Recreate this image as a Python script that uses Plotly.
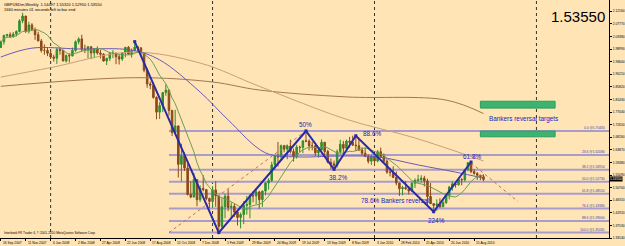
import pandas as pd
import plotly.graph_objects as go

# ---------------- data ----------------
start_date = "2007-09-16"          # first weekly bar (Sunday)
first_open = 1.9950

high = [2.0190, 2.0400, 2.0430, 2.0480, 2.0490, 2.0550, 2.0940, 2.1161, 2.1050, 2.0850, 2.0800, 2.0650, 2.0500, 2.0250, 2.0060, 1.9960,
        1.9830, 1.9700, 1.9940, 1.9960, 1.9870, 1.9710, 1.9750, 1.9950, 2.0200, 2.0310, 2.0397, 2.0050, 2.0000, 1.9990, 1.9920, 1.9990,
        1.9870, 1.9750, 1.9600, 1.9800, 1.9860, 1.9780, 1.9700, 1.9780, 1.9960, 2.0000, 1.9920, 2.0157, 2.0010, 1.9950, 1.9770, 1.9230,
        1.8760, 1.8740, 1.8250, 1.8050, 1.8400, 1.8670, 1.8460, 1.7780, 1.7780, 1.7100, 1.6600, 1.6300, 1.5900, 1.5290, 1.5580, 1.5350,
        1.5150, 1.5500, 1.4980, 1.4720,
        1.5120, 1.5290, 1.4800, 1.4700, 1.4850, 1.5010, 1.4550, 1.4500, 1.4250, 1.4200, 1.4600, 1.4780, 1.4850, 1.4950, 1.5060, 1.4960,
        1.4960, 1.5260, 1.5400, 1.5970, 1.6180, 1.6660, 1.6570, 1.6560, 1.6570, 1.6740, 1.6430, 1.6560, 1.6530, 1.6680, 1.7043, 1.6750,
        1.6660, 1.6520, 1.6480, 1.6750, 1.6660, 1.6390, 1.6090, 1.6010, 1.6400, 1.6740, 1.6700, 1.6740, 1.6840, 1.6880, 1.6877, 1.6770,
        1.6480, 1.6460, 1.6230, 1.6220,
        1.6160, 1.6380, 1.6460, 1.6260, 1.6060, 1.5760, 1.5810, 1.5630, 1.5240, 1.5130, 1.5300, 1.5060, 1.5270, 1.5390, 1.5520, 1.5500,
        1.5480, 1.5380, 1.5230, 1.4530, 1.4660, 1.4700, 1.4670, 1.4870, 1.5130, 1.5290, 1.5250, 1.5440, 1.5400, 1.5720, 1.5950, 1.5962,
        1.5710, 1.5610, 1.5520, 1.5532]

low = [1.9940, 2.0050, 2.0290, 2.0290, 2.0310, 2.0340, 2.0480, 2.0800, 2.0460, 2.0440, 2.0520, 2.0220, 2.0170, 1.9780, 1.9700, 1.9650,
       1.9550, 1.9460, 1.9380, 1.9700, 1.9500, 1.9430, 1.9430, 1.9640, 1.9800, 2.0060, 1.9800, 1.9760, 1.9580, 1.9550, 1.9580, 1.9700,
       1.9570, 1.9460, 1.9340, 1.9480, 1.9580, 1.9370, 1.9360, 1.9480, 1.9610, 1.9700, 1.9600, 1.9850, 1.9840, 1.9700, 1.9090, 1.8550,
       1.8500, 1.8170, 1.7450, 1.7460, 1.7700, 1.8270, 1.7580, 1.6870, 1.7080, 1.5420, 1.5280, 1.5650, 1.4800, 1.4700, 1.4770, 1.4420,
       1.4570, 1.4940, 1.4630, 1.4350,
       1.4400, 1.4400, 1.3503, 1.3650, 1.4000, 1.4250, 1.4050, 1.4050, 1.3750, 1.3650, 1.3800, 1.4130, 1.4000, 1.4560, 1.4500, 1.4330,
       1.4400, 1.4800, 1.5000, 1.5270, 1.5700, 1.5800, 1.6010, 1.6300, 1.6060, 1.6260, 1.5980, 1.6080, 1.6290, 1.6270, 1.6650, 1.6360,
       1.6370, 1.6180, 1.6120, 1.6400, 1.6220, 1.5920, 1.5707, 1.5720, 1.5770, 1.6250, 1.6240, 1.6370, 1.6460, 1.6520, 1.6340, 1.6340,
       1.6200, 1.6150, 1.5910, 1.5860,
       1.5840, 1.5950, 1.6110, 1.5920, 1.5550, 1.5460, 1.5410, 1.5150, 1.4780, 1.4800, 1.5000, 1.4830, 1.4950, 1.5060, 1.5250, 1.5240,
       1.5110, 1.4470, 1.4530, 1.4229, 1.4260, 1.4360, 1.4390, 1.4500, 1.4660, 1.4960, 1.5070, 1.5140, 1.5150, 1.5280, 1.5640, 1.5570,
       1.5520, 1.5340, 1.5330, 1.5295]

close = [2.0150, 2.0370, 2.0400, 2.0320, 2.0420, 2.0510, 2.0880, 2.1050, 2.0520, 2.0740, 2.0580, 2.0400, 2.0180, 1.9850, 1.9850, 1.9750,
         1.9620, 1.9580, 1.9880, 1.9850, 1.9480, 1.9670, 1.9660, 1.9850, 2.0150, 2.0250, 1.9890, 1.9880, 1.9980, 1.9760, 1.9910, 1.9760,
         1.9720, 1.9480, 1.9570, 1.9750, 1.9750, 1.9630, 1.9550, 1.9760, 1.9960, 1.9720, 1.9840, 1.9970, 1.9940, 1.9770, 1.9160, 1.8680,
         1.8640, 1.8210, 1.7700, 1.7930, 1.8380, 1.8470, 1.7760, 1.6990, 1.7220, 1.5880, 1.6180, 1.5750, 1.4830, 1.4740, 1.5350, 1.4650,
         1.5040, 1.5000, 1.4690, 1.4590,
         1.4990, 1.4780, 1.3720, 1.4400, 1.4770, 1.4380, 1.4420, 1.4220, 1.4030, 1.4130, 1.4450, 1.4480, 1.4790, 1.4780, 1.4920, 1.4650,
         1.4950, 1.5230, 1.5320, 1.5860, 1.6160, 1.6140, 1.6530, 1.6410, 1.6520, 1.6330, 1.6150, 1.6480, 1.6470, 1.6700, 1.6690, 1.6530,
         1.6530, 1.6280, 1.6380, 1.6650, 1.6330, 1.5950, 1.5900, 1.5850, 1.6320, 1.6580, 1.6440, 1.6690, 1.6650, 1.6550, 1.6530, 1.6380,
         1.6270, 1.6150, 1.5990, 1.6150,
         1.6000, 1.6320, 1.6150, 1.5990, 1.5610, 1.5600, 1.5420, 1.5230, 1.5030, 1.5070, 1.5030, 1.4950, 1.5220, 1.5320, 1.5350, 1.5400,
         1.5300, 1.4760, 1.4510, 1.4450, 1.4500, 1.4400, 1.4550, 1.4800, 1.5090, 1.5200, 1.5170, 1.5350, 1.5340, 1.5700, 1.5940, 1.5630,
         1.5560, 1.5500, 1.5450, 1.5355]

# moving averages (sparse points)
ma_mid_dates = ["2007-09-16", "2007-11-25", "2008-03-09", "2008-07-06", "2008-09-07", "2008-12-07", "2009-02-08",
                "2009-05-03", "2009-07-12", "2009-10-11", "2010-01-10", "2010-04-11", "2010-07-04", "2010-09-05"]
ma_mid_vals = [1.962, 1.993, 1.990, 1.986, 1.952, 1.840, 1.743, 1.628, 1.614, 1.617, 1.614, 1.586, 1.561, 1.540]

ma_long1_dates = ["2007-09-16", "2008-01-06", "2008-07-06", "2008-12-07", "2009-04-19", "2009-11-01",
                  "2010-04-04", "2010-09-05"]
ma_long1_vals = [1.892, 1.925, 1.979, 1.941, 1.860, 1.745, 1.680, 1.600]

ma_long2_dates = ["2007-09-16", "2008-07-13", "2009-01-04", "2009-04-19", "2009-11-01", "2010-06-13", "2010-09-05"]
ma_long2_vals = [1.860, 1.890, 1.875, 1.847, 1.823, 1.812, 1.765]

# zig-zag pattern drawn by the trader
zz_dates = ["2008-07-13", "2009-01-18", "2009-08-02", "2009-10-04", "2009-11-22", "2010-05-16", "2010-08-08"]
zz_vals = [2.0157, 1.3503, 1.7043, 1.5707, 1.6877, 1.4229, 1.5962]
zz_labels = ["", "", "50%", "38.2%", "88.6%", "224%", "61.8%"]

# fibonacci retracement
fib_start = "2008-09-28"
fib_anchor_dates = ["2008-09-28", "2009-08-02"]
fib_levels = ["0.0", "23.6", "38.2", "50.0", "61.8", "76.4", "88.6", "100.0"]
fib_prices = [1.7043, 1.6208, 1.5691, 1.5273, 1.4855, 1.4338, 1.3906, 1.3503]

# target boxes
target_x = ["2010-08-29", "2011-02-13"]
target_boxes = [(1.7840, 1.8080), (1.6840, 1.7040)]

# down trend line after 61.8%
trend_dates = ["2010-08-08", "2010-11-21"]
trend_vals = [1.5930, 1.4590]

# year separators
separators = ["2008-01-06", "2009-01-04", "2010-01-03", "2011-01-02"]

# axis labels
date_ticks = ["2007-09-16", "2007-11-11", "2008-01-06", "2008-03-02", "2008-04-27", "2008-06-22", "2008-08-17",
              "2008-10-12", "2008-12-07", "2009-02-01", "2009-03-29", "2009-05-24", "2009-07-19", "2009-09-13",
              "2009-11-08", "2010-01-03", "2010-02-28", "2010-04-25", "2010-06-20", "2010-08-15"]
date_text = ["16 Sep 2007", "11 Nov 2007", "6 Jan 2008", "2 Mar 2008", "27 Apr 2008", "22 Jun 2008", "17 Aug 2008",
             "12 Oct 2008", "7 Dec 2008", "1 Feb 2009", "29 Mar 2009", "24 May 2009", "19 Jul 2009", "13 Sep 2009",
             "8 Nov 2009", "3 Jan 2010", "28 Feb 2010", "25 Apr 2010", "20 Jun 2010", "15 Aug 2010"]
price_ticks = [1.3314, 1.3753, 1.4192, 1.4631, 1.5070, 1.5509, 1.5948, 1.6387, 1.6826, 1.7265,
               1.7704, 1.8143, 1.8582, 1.9021, 1.9460, 1.9899, 2.0338, 2.0777, 2.1216]
last_price = 1.5355

# ---------------- figure ----------------
dates = pd.date_range(start_date, periods=len(close), freq="7D")
opens = [first_open] + close[:-1]

BG = "#FFE4B5"
BULL = "#2F8F2F"
BEAR = "#8B4A17"
ZZ = "#2A2AA8"
FIBC = "#A89CCB"
TXT = "#2323B8"
SMALL = 3.3
LBL = 6.4

fig = go.Figure()

# year separators
for d in separators:
    fig.add_shape(type="line", xref="x", yref="paper", x0=d, x1=d, y0=0, y1=1,
                  line=dict(color="#333333", width=1, dash="dot"), layer="below")

# fibonacci lines
x_right = pd.Timestamp(start_date) + pd.Timedelta(weeks=195.3)
for lvl, pr in zip(fib_levels, fib_prices):
    fig.add_shape(type="line", xref="x", yref="y", x0=fib_start, x1=x_right, y0=pr, y1=pr,
                  line=dict(color=FIBC, width=2), layer="below")
    fig.add_annotation(x=1, xref="paper", y=pr, yref="y", xanchor="right", yanchor="bottom",
                       text=f"{lvl} @{pr:.5f}", showarrow=False, xshift=-2, yshift=-1,
                       font=dict(size=SMALL, color="#4A3FA8", family="Liberation Sans"))
# fib trend (dotted)
fig.add_trace(go.Scatter(x=fib_anchor_dates, y=[fib_prices[-1], fib_prices[0]], mode="lines",
                         line=dict(color="#C07060", width=1, dash="dot"), hoverinfo="skip"))

# target boxes
for lo, hi in target_boxes:
    fig.add_shape(type="rect", xref="x", yref="y", x0=target_x[0], x1=target_x[1], y0=lo, y1=hi,
                  fillcolor="#3CB371", line=dict(color="#2E9B5E", width=1))

# moving averages
fig.add_trace(go.Scatter(x=ma_long2_dates, y=ma_long2_vals, mode="lines", line_shape="spline",
                         line=dict(color="#A07850", width=1), hoverinfo="skip"))
fig.add_trace(go.Scatter(x=ma_long1_dates, y=ma_long1_vals, mode="lines", line_shape="spline",
                         line=dict(color="#C8A078", width=1), hoverinfo="skip"))
fig.add_trace(go.Scatter(x=ma_mid_dates, y=ma_mid_vals, mode="lines", line_shape="spline",
                         line=dict(color="#6A5AB8", width=1), hoverinfo="skip"))
ma_short = pd.Series(close).rolling(10, min_periods=1).mean()
fig.add_trace(go.Scatter(x=dates, y=ma_short, mode="lines",
                         line=dict(color="#6E9E50", width=1), hoverinfo="skip"))

# candles
fig.add_trace(go.Candlestick(x=dates, open=opens, high=high, low=low, close=close,
                             increasing=dict(line=dict(color=BULL, width=1), fillcolor=BULL),
                             decreasing=dict(line=dict(color=BEAR, width=1), fillcolor=BEAR),
                             whiskerwidth=0, hoverinfo="skip"))

# trend line
fig.add_trace(go.Scatter(x=trend_dates, y=trend_vals, mode="lines",
                         line=dict(color="#C06A5A", width=1, dash="dot"), hoverinfo="skip"))

# zigzag
fig.add_trace(go.Scatter(x=zz_dates, y=zz_vals, mode="lines+markers",
                         line=dict(color=ZZ, width=2),
                         marker=dict(symbol="square", size=3, color=ZZ), hoverinfo="skip"))

# zigzag labels
label_pos = {"50%": (0, 6), "38.2%": (4, -8), "88.6%": (16, 2), "224%": (3, -9), "61.8%": (1, 6)}
for d, v, t in zip(zz_dates, zz_vals, zz_labels):
    if t:
        dx, dy = label_pos[t]
        fig.add_annotation(x=d, y=v, text=t, showarrow=False, xshift=dx, yshift=dy,
                           font=dict(size=LBL, color=TXT, family="Liberation Sans"))
fig.add_annotation(x="2009-11-29", y=1.4623, xanchor="left", text="78.6% Bankers reversal", showarrow=False,
                   font=dict(size=LBL, color=TXT, family="Liberation Sans"))
fig.add_annotation(x="2010-12-05", y=1.7458, text="Bankers reversal targets", showarrow=False,
                   font=dict(size=LBL, color=TXT, family="Liberation Sans"))

# header texts
fig.add_annotation(x=0.004, y=1, xref="paper", yref="paper", xanchor="left", yanchor="top",
                   text="GBPUSDm,Weekly  1.54497 1.55320 1.52950 1.53550<br>1660 minutes 01 seconds left to bar end",
                   showarrow=False, align="left", font=dict(size=4, color="#000000", family="Liberation Sans"))
fig.add_annotation(x=0.997, y=0.975, xref="paper", yref="paper", xanchor="right", yanchor="top",
                   text="1.53550", showarrow=False, font=dict(size=15, color="#000000", family="Liberation Sans"))
fig.add_annotation(x=0.004, y=0.005, xref="paper", yref="paper", xanchor="left", yanchor="bottom",
                   text="Interbank FX Trader 4, © 2001-2010 MetaQuotes Software Corp.",
                   showarrow=False, font=dict(size=3.2, color="#000000", family="Liberation Sans"))
# current price box
fig.add_annotation(x=1, xref="paper", y=last_price, yref="y", xanchor="left", text="1.53550",
                   showarrow=False, bgcolor="#000000", borderpad=0,
                   font=dict(size=SMALL, color="#FFFFFF", family="Liberation Sans"))
# date labels (left aligned like MT4)
for d, t in zip(date_ticks, date_text):
    fig.add_annotation(x=d, y=0, xref="x", yref="paper", xanchor="left", yanchor="top",
                       text=t, showarrow=False, yshift=-1,
                       font=dict(size=SMALL, color="#000000", family="Liberation Sans"))

x_left = pd.Timestamp(start_date) - pd.Timedelta(days=1.8)
fig.update_layout(
    width=625, height=246,
    margin=dict(l=0, r=13, t=0, b=8),
    paper_bgcolor=BG, plot_bgcolor=BG,
    showlegend=False,
    xaxis=dict(range=[x_left, x_right], showgrid=False, zeroline=False, rangeslider=dict(visible=False),
               tickvals=date_ticks, showticklabels=False, ticks="outside", ticklen=2, tickcolor="#000",
               showline=True, linecolor="#000", linewidth=1),
    yaxis=dict(range=[1.3314, 2.1607], side="right", showgrid=False, zeroline=False,
               tickvals=price_ticks, ticktext=[f"{v:.5f}" for v in price_ticks],
               ticks="outside", ticklen=2, tickcolor="#000",
               tickfont=dict(size=SMALL, color="#000", family="Liberation Sans"),
               showline=True, linecolor="#000", linewidth=1),
)

fig.write_html("out.html", config={"displayModeBar": False})
